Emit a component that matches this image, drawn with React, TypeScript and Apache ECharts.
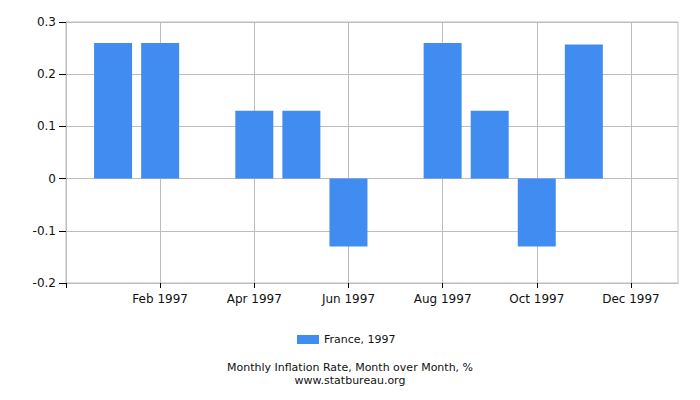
import React, { useEffect, useRef } from "react";
import * as echarts from "echarts";

// months on the axis, padded by one empty slot at each end
const months = [
  "Jan 1997", "Feb 1997", "Mar 1997", "Apr 1997", "May 1997", "Jun 1997",
  "Jul 1997", "Aug 1997", "Sep 1997", "Oct 1997", "Nov 1997", "Dec 1997",
];
const inflation = [0.26, 0.26, 0, 0.13, 0.13, -0.13, 0, 0.26, 0.13, -0.13, 0.257, 0];
const yTicks = { min: -0.2, max: 0.3, interval: 0.1 };
const seriesName = "France, 1997";
const titleLines = ["Monthly Inflation Rate, Month over Month, %", "www.statbureau.org"];

const categories = ["", ...months, ""];
const values = [null, ...inflation, null];

// show labels / grid lines only at Feb, Apr, ... Dec
const isLabelled = (i: number) => i >= 2 && i <= 12 && i % 2 === 0;

const App: React.FC = () => {
  const chartRef = useRef<HTMLDivElement>(null);

  useEffect(() => {
    document.body.style.margin = "0";
    if (!chartRef.current) return;
    const myChart = echarts.init(chartRef.current, null, { renderer: "svg" });

    const option: echarts.EChartsOption = {
      animation: false,
      textStyle: { fontFamily: "DejaVu Sans" },
      title: titleLines.map((line, i) => ({
        text: line,
        left: "center",
        top: 357 + i * 13,
        textStyle: { fontSize: 11, lineHeight: 11, fontWeight: "normal", color: "#111" },
      })),
      legend: {
        left: 292,
        top: 329,
        itemWidth: 22,
        itemHeight: 9,
        icon: "rect",
        textStyle: { fontSize: 11, color: "#111" },
        data: [seriesName],
      },
      grid: {
        left: 66,
        right: 22,
        top: 22,
        bottom: 117,
        show: true,
        borderColor: "#bdbdbd",
        borderWidth: 1,
      },
      xAxis: {
        type: "category",
        data: categories,
        boundaryGap: false,
        axisLine: { onZero: false, lineStyle: { color: "#bdbdbd" } },
        axisTick: {
          interval: (i: number) => i === 0 || isLabelled(i),
          length: 5,
          lineStyle: { color: "#000" },
        },
        axisLabel: {
          interval: (i: number) => isLabelled(i),
          margin: 10,
          fontSize: 12,
          color: "#111",
        },
        splitLine: {
          show: true,
          interval: (i: number) => isLabelled(i),
          lineStyle: { color: "#bdbdbd" },
        },
      },
      yAxis: {
        type: "value",
        min: yTicks.min,
        max: yTicks.max,
        interval: yTicks.interval,
        axisLine: { show: true, lineStyle: { color: "#bdbdbd" } },
        axisTick: { show: true, length: 7, lineStyle: { color: "#000" } },
        axisLabel: {
          margin: 10,
          fontSize: 12,
          color: "#111",
          formatter: (v: number) => String(Number(v.toFixed(1))),
        },
        splitLine: { lineStyle: { color: "#bdbdbd" } },
      },
      series: [
        {
          name: seriesName,
          type: "bar",
          data: values,
          barWidth: 38,
          itemStyle: { color: "#418cf0" },
        },
      ],
    };

    myChart.setOption(option);

    return () => {
      myChart.dispose();
    };
  }, []);

  return <div ref={chartRef} style={{ width: "700px", height: "400px" }} />;
};

export default App;
